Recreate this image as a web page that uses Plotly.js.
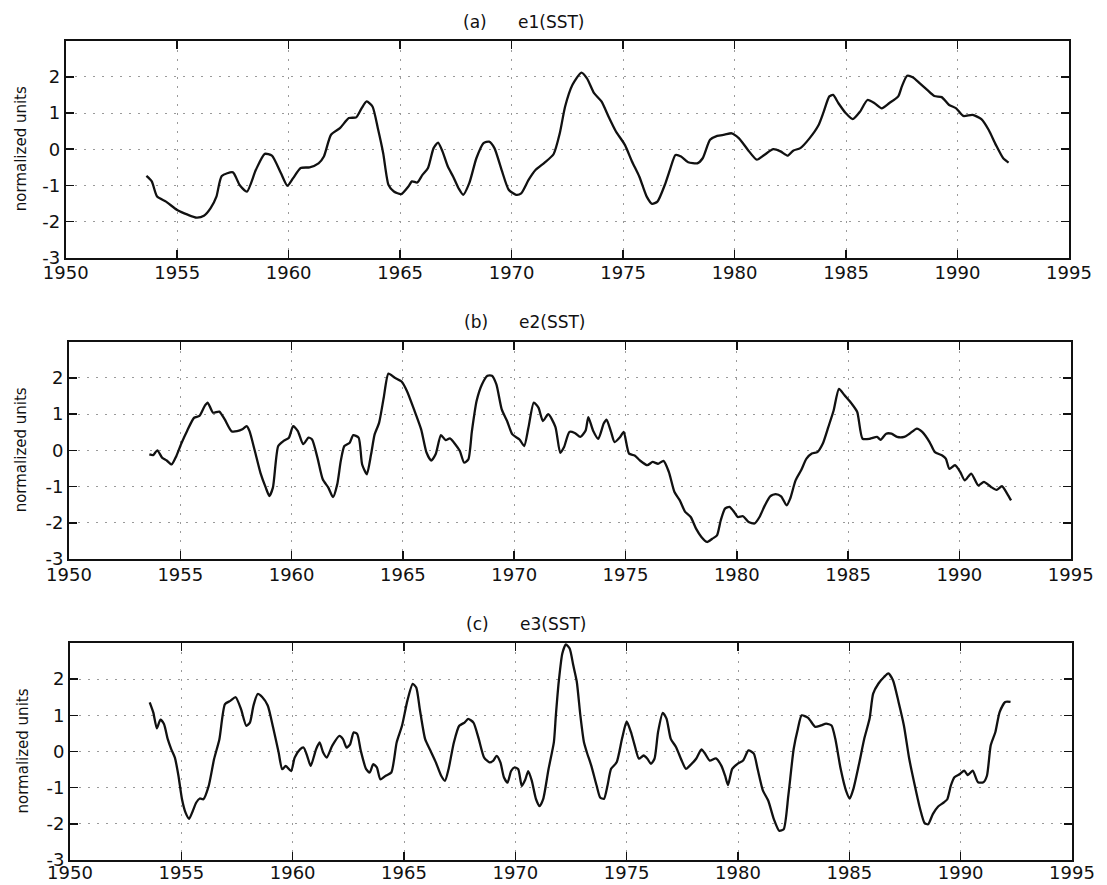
<!DOCTYPE html>
<html>
<head>
<meta charset="utf-8">
<script src="https://cdn.plot.ly/plotly-3.0.1.min.js"></script>
<style>html,body{margin:0;padding:0;background:#fff;}#chart{width:1107px;height:885px;}</style>
</head>
<body>
<div id="chart"></div>
<script>
// ---- data ----
const xTickValues = [1950,1955,1960,1965,1970,1975,1980,1985,1990,1995];
const xTickLabels = ['1950','1955','1960','1965','1970','1975','1980','1985','1990','1995'];
const yTickValues = [-3,-2,-1,0,1,2];
const yTickLabels = ['-3','-2','-1','0','1','2'];
const panelLetters = ['(a)','(b)','(c)'];
const panelNames = ['e1(SST)','e2(SST)','e3(SST)'];
const yAxisLabel = 'normalized units';

const e1Years = [
1953.62,1953.86,1954.1,1954.5,1955.0,1955.47,1955.87,1956.2,1956.5,1956.76,
1957.0,1957.5,1957.8,1958.13,1958.53,1958.93,1959.25,1959.65,1959.94,1960.2,
1960.54,1960.94,1961.34,1961.58,1961.9,1962.3,1962.7,1963.03,1963.27,1963.5,
1963.76,1964.0,1964.24,1964.48,1964.72,1965.05,1965.37,1965.53,1965.77,1966.0,
1966.25,1966.5,1966.7,1966.9,1967.14,1967.38,1967.62,1967.83,1968.1,1968.42,
1968.74,1968.99,1969.23,1969.55,1969.87,1970.2,1970.43,1970.76,1971.08,1971.48,
1971.88,
1972.16,1972.4,1972.73,1973.13,1973.38,1973.7,1974.03,1974.35,1974.68,1975.08,
1975.4,1975.73,1976.06,1976.3,1976.54,1976.87,1977.1,1977.35,1977.6,1977.92,
1978.33,1978.57,1978.9,1979.22,1979.55,1979.87,1980.2,1980.6,1981.0,1981.33,
1981.74,1982.06,1982.39,1982.63,1982.95,1983.36,1983.77,1984.0,1984.25,1984.42,
1984.66,1984.98,1985.3,1985.63,1985.96,1986.28,1986.6,1986.93,1987.34,1987.5,
1987.74,1987.99,1988.31,1988.64,1988.96,1989.29,1989.61,1989.94,1990.26,1990.67,
1991.07,1991.4,1991.72,1992.05,1992.29];
const e1Values = [
-0.74,-0.89,-1.31,-1.45,-1.68,-1.81,-1.89,-1.84,-1.63,-1.31,
-0.74,-0.64,-0.99,-1.17,-0.57,-0.13,-0.18,-0.66,-1.01,-0.8,
-0.52,-0.5,-0.39,-0.2,0.4,0.58,0.86,0.88,1.13,1.32,
1.18,0.58,-0.11,-0.99,-1.17,-1.24,-1.03,-0.89,-0.92,-0.71,
-0.52,0.03,0.18,-0.06,-0.48,-0.76,-1.08,-1.26,-0.94,-0.25,
0.17,0.21,0.03,-0.57,-1.12,-1.26,-1.22,-0.85,-0.57,-0.37,
-0.14,
0.44,1.18,1.78,2.12,1.96,1.55,1.32,0.9,0.49,0.12,
-0.34,-0.76,-1.31,-1.51,-1.45,-0.99,-0.57,-0.16,-0.2,-0.36,
-0.39,-0.25,0.26,0.37,0.4,0.44,0.3,-0.02,-0.29,-0.16,
0.0,-0.06,-0.18,-0.04,0.03,0.3,0.67,1.04,1.46,1.5,
1.27,1.0,0.83,1.04,1.36,1.27,1.13,1.27,1.46,1.73,
2.03,1.99,1.82,1.64,1.47,1.44,1.23,1.13,0.92,0.95,
0.83,0.53,0.12,-0.25,-0.37];

const e2Years = [
1953.61,1953.78,1953.97,1954.18,1954.39,1954.61,1954.82,1955.06,1955.3,1955.62,
1955.86,1956.1,1956.23,1956.47,1956.75,1956.99,1957.3,1957.55,1957.79,1957.98,
1958.11,1958.35,1958.6,1958.84,1959.0,1959.16,1959.4,1959.64,1959.88,1960.07,
1960.28,1960.52,1960.76,1960.92,1961.16,1961.4,1961.65,1961.86,1962.05,1962.21,
1962.37,1962.61,1962.77,1963.01,1963.17,1963.38,1963.57,1963.73,1963.93,1964.14,
1964.35,1964.62,1964.94,1965.18,1965.5,1965.82,1966.06,1966.27,1966.47,1966.71,
1966.92,1967.11,1967.35,1967.56,1967.75,1967.94,1968.1,1968.31,1968.55,1968.8,
1969.0,1969.2,1969.44,1969.68,1969.92,1970.24,1970.45,1970.64,1970.88,1971.09,
1971.29,1971.53,1971.85,
1972.07,1972.24,1972.48,1972.72,1972.97,1973.21,1973.33,1973.54,1973.78,1974.02,
1974.15,1974.35,1974.51,1974.76,1974.92,1975.16,1975.41,1975.65,1975.98,1976.22,
1976.46,1976.71,1976.95,1977.2,1977.44,1977.68,1977.93,1978.17,1978.41,1978.66,
1978.9,1979.11,1979.28,1979.47,1979.67,1979.88,1980.04,1980.28,1980.53,1980.8,
1981.02,1981.26,1981.5,1981.75,1981.99,1982.24,1982.4,1982.64,1982.89,1983.13,
1983.37,1983.62,1983.86,1984.11,1984.35,1984.59,1984.84,1985.16,1985.41,1985.65,
1985.98,1986.3,1986.46,1986.71,1986.95,1987.2,1987.52,1987.76,1988.09,1988.33,
1988.66,1988.9,1989.23,1989.39,1989.55,1989.8,1990.04,1990.24,1990.53,1990.85,
1991.1,1991.42,1991.67,1991.91,1992.15,1992.32];
const e2Values = [
-0.11,-0.13,0.0,-0.2,-0.28,-0.39,-0.16,0.21,0.53,0.9,
0.95,1.23,1.32,1.04,1.07,0.86,0.53,0.53,0.58,0.67,
0.53,-0.02,-0.62,-1.03,-1.26,-1.03,0.12,0.26,0.35,0.67,
0.53,0.17,0.35,0.3,-0.2,-0.8,-1.03,-1.29,-0.94,-0.29,
0.12,0.21,0.42,0.35,-0.39,-0.66,-0.11,0.44,0.76,1.46,
2.12,2.01,1.9,1.64,1.13,0.58,-0.06,-0.28,-0.11,0.42,
0.28,0.33,0.17,-0.02,-0.34,-0.25,0.53,1.36,1.82,2.06,
2.06,1.82,1.13,0.81,0.44,0.3,0.12,0.63,1.32,1.18,
0.81,1.0,0.65,
-0.07,0.09,0.51,0.48,0.37,0.55,0.92,0.55,0.32,0.74,
0.85,0.51,0.23,0.37,0.51,-0.09,-0.14,-0.28,-0.41,-0.32,
-0.37,-0.29,-0.6,-1.15,-1.38,-1.7,-1.84,-2.16,-2.39,-2.53,
-2.44,-2.35,-1.93,-1.61,-1.56,-1.7,-1.84,-1.82,-1.98,-2.02,
-1.84,-1.52,-1.27,-1.21,-1.27,-1.52,-1.33,-0.83,-0.55,-0.23,
-0.09,-0.05,0.18,0.64,1.1,1.7,1.52,1.29,1.06,0.32,
0.32,0.37,0.29,0.46,0.46,0.37,0.37,0.46,0.6,0.51,
0.23,-0.05,-0.14,-0.23,-0.51,-0.41,-0.6,-0.83,-0.64,-0.97,
-0.87,-1.01,-1.09,-0.99,-1.2,-1.38];

const e3Years = [
1953.58,1953.74,1953.9,1954.06,1954.22,1954.39,1954.55,1954.71,1954.87,1955.03,
1955.19,1955.35,1955.51,1955.67,1955.83,1955.99,1956.23,1956.47,1956.71,1956.96,
1957.2,1957.44,1957.68,1957.92,1958.08,1958.24,1958.43,1958.64,1958.88,1959.12,
1959.37,1959.53,1959.69,1959.93,1960.09,1960.33,1960.49,1960.65,1960.81,1961.05,
1961.21,1961.37,1961.53,1961.78,1962.1,1962.26,1962.42,1962.58,1962.74,1962.9,
1963.06,1963.3,1963.46,1963.62,1963.78,1963.94,1964.18,1964.43,1964.67,1964.91,
1965.15,1965.39,1965.55,1965.71,1965.95,1966.19,1966.43,1966.67,1966.84,1967.0,
1967.24,1967.48,1967.72,1967.88,1968.12,1968.36,1968.6,1968.84,1969.0,1969.16,
1969.33,1969.49,1969.65,1969.81,1969.97,1970.13,1970.29,1970.45,1970.58,1970.74,
1970.93,1971.09,1971.25,1971.49,1971.73,
1971.82,1971.95,1972.11,1972.27,1972.44,1972.6,1972.76,1972.92,1973.08,1973.21,
1973.41,1973.65,1973.81,1973.98,1974.14,1974.3,1974.55,1974.79,1975.0,1975.19,
1975.36,1975.55,1975.76,1975.93,1976.09,1976.25,1976.41,1976.62,1976.79,1976.98,
1977.22,1977.47,1977.66,1977.87,1978.12,1978.36,1978.52,1978.73,1979.01,1979.25,
1979.42,1979.55,1979.74,1979.98,1980.23,1980.47,1980.71,1980.88,1981.12,1981.36,
1981.61,1981.85,1982.05,1982.26,1982.5,1982.69,1982.86,1983.15,1983.47,1983.72,
1983.96,1984.2,1984.37,1984.61,1984.85,1985.02,1985.18,1985.42,1985.67,1985.91,
1986.07,1986.31,1986.56,1986.75,1986.96,1987.21,1987.45,1987.69,1987.94,1988.18,
1988.38,1988.54,1988.75,1988.99,1989.24,1989.4,1989.56,1989.72,1989.97,1990.16,
1990.32,1990.54,1990.78,1991.02,1991.18,1991.35,1991.56,1991.75,1992.0,1992.24];
const e3Values = [
1.36,1.08,0.64,0.88,0.76,0.34,0.06,-0.17,-0.67,-1.32,
-1.69,-1.86,-1.65,-1.41,-1.3,-1.32,-0.95,-0.21,0.34,1.31,
1.4,1.5,1.17,0.71,0.8,1.27,1.59,1.5,1.27,0.67,
-0.03,-0.49,-0.4,-0.54,-0.17,0.06,0.11,-0.12,-0.4,0.06,
0.25,-0.03,-0.17,0.16,0.43,0.34,0.11,0.2,0.53,0.48,
0.02,-0.49,-0.58,-0.35,-0.44,-0.77,-0.67,-0.58,0.25,0.71,
1.4,1.87,1.77,1.17,0.34,0.02,-0.3,-0.67,-0.81,-0.49,
0.25,0.71,0.8,0.9,0.8,0.34,-0.17,-0.3,-0.26,-0.12,
-0.3,-0.72,-0.86,-0.54,-0.44,-0.49,-0.95,-0.77,-0.54,-0.81,
-1.32,-1.51,-1.32,-0.49,0.25,
1.0,1.93,2.71,2.96,2.85,2.39,1.93,1.0,0.26,-0.02,
-0.39,-0.94,-1.27,-1.31,-0.94,-0.48,-0.3,0.35,0.83,0.54,
0.17,-0.2,-0.11,-0.2,-0.34,-0.2,0.54,1.07,0.91,0.35,
0.12,-0.25,-0.48,-0.37,-0.2,0.06,-0.06,-0.25,-0.19,-0.39,
-0.67,-0.93,-0.48,-0.34,-0.25,0.03,-0.06,-0.48,-1.08,-1.36,
-1.87,-2.19,-2.15,-1.22,0.07,0.63,1.0,0.93,0.68,0.72,
0.77,0.72,0.35,-0.48,-1.08,-1.3,-1.04,-0.39,0.35,0.91,
1.6,1.88,2.06,2.16,1.97,1.37,0.72,-0.2,-0.94,-1.59,
-1.98,-2.01,-1.73,-1.52,-1.41,-1.32,-0.94,-0.71,-0.62,-0.53,
-0.65,-0.53,-0.85,-0.85,-0.67,0.17,0.54,1.09,1.37,1.37];

// ---- layout (pixel geometry of the figure) ----
const W = 1107, H = 885;
const panels = [
  {x0: 65.7, x1: 1069, top: 40.7, bottom: 257.7, titleY: 22, letterX: 461, nameX: 516, labelX: 21, standoff: -2},
  {x0: 69,   x1: 1070.7, top: 341.7, bottom: 559, titleY: 322, letterX: 462, nameX: 517, labelX: 21, standoff: -2},
  {x0: 70,   x1: 1072, top: 643, bottom: 860, titleY: 624, letterX: 464, nameX: 518, labelX: 22, standoff: -5}
];
const series = [[e1Years, e1Values],[e2Years, e2Values],[e3Years, e3Values]];
const ink = '#111';
const fontFam = 'DejaVu Sans, sans-serif';

const traces = [];
const layout = {
  width: W, height: H,
  margin: {l: 0, r: 0, t: 0, b: 0},
  paper_bgcolor: '#fff', plot_bgcolor: '#fff',
  showlegend: false,
  annotations: []
};

panels.forEach((p, i) => {
  const sfx = i === 0 ? '' : String(i + 1);
  traces.push({
    type: 'scatter', mode: 'lines',
    x: series[i][0], y: series[i][1],
    xaxis: 'x' + sfx, yaxis: 'y' + sfx,
    line: {color: ink, width: 2.3, shape: 'spline', smoothing: 0.6},
    hoverinfo: 'skip'
  });
  const common = {
    showline: true, linecolor: ink, linewidth: 2,
    mirror: 'allticks', ticks: 'inside', ticklen: 8, tickwidth: 1.5, tickcolor: ink,
    showgrid: true, gridcolor: '#9a9a9a', griddash: '2px,7px', gridwidth: 1,
    zeroline: false, fixedrange: true,
    tickfont: {family: fontFam, size: 18, color: ink}
  };
  layout['xaxis' + sfx] = Object.assign({}, common, {
    domain: [p.x0 / W, p.x1 / W],
    anchor: 'y' + sfx,
    range: [1950, 1995],
    tickmode: 'array', tickvals: xTickValues, ticktext: xTickLabels,
    ticklabelstandoff: p.standoff
  });
  layout['yaxis' + sfx] = Object.assign({}, common, {
    domain: [1 - p.bottom / H, 1 - p.top / H],
    anchor: 'x' + sfx,
    range: [-3, 3],
    tickmode: 'array', tickvals: yTickValues, ticktext: yTickLabels
  });
  layout.annotations.push({
    xref: 'paper', yref: 'paper', x: p.letterX / W, y: 1 - p.titleY / H,
    xanchor: 'left', yanchor: 'middle', showarrow: false,
    text: panelLetters[i], font: {family: fontFam, size: 17, color: ink}
  });
  layout.annotations.push({
    xref: 'paper', yref: 'paper', x: p.nameX / W, y: 1 - p.titleY / H,
    xanchor: 'left', yanchor: 'middle', showarrow: false,
    text: panelNames[i], font: {family: fontFam, size: 17, color: ink}
  });
  layout.annotations.push({
    xref: 'paper', yref: 'paper', x: p.labelX / W, y: 1 - (p.top + p.bottom) / 2 / H,
    xanchor: 'center', yanchor: 'middle', showarrow: false, textangle: -90,
    text: yAxisLabel, font: {family: fontFam, size: 15, color: ink}
  });
});

Plotly.newPlot('chart', traces, layout, {displayModeBar: false, staticPlot: true});
</script>
</body>
</html>
